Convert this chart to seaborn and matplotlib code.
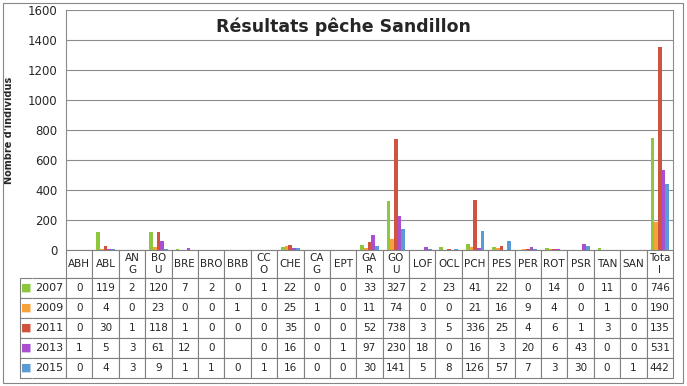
import numpy as np
import pandas as pd
import seaborn as sns
import matplotlib.pyplot as plt

# species codes (table headers are wrapped like in the Excel sheet)
especes = ["ABH", "ABL", "ANG", "BOU", "BRE", "BRO", "BRB", "CCO", "CHE", "CAG", "EPT",
           "GAR", "GOU", "LOF", "OCL", "PCH", "PES", "PER", "ROT", "PSR", "TAN", "SAN", "Total"]
entetes = ["ABH", "ABL", "AN\nG", "BO\nU", "BRE", "BRO", "BRB", "CC\nO", "CHE", "CA\nG", "EPT",
           "GA\nR", "GO\nU", "LOF", "OCL", "PCH", "PES", "PER", "ROT", "PSR", "TAN", "SAN", "Tota\nl"]
annees = ["2007", "2009", "2011", "2013", "2015"]
couleurs = ["#8DC63F", "#F7A13A", "#D0533F", "#A94FD0", "#5B9BD5"]

v2007 = [0, 119, 2, 120, 7, 2, 0, 1, 22, 0, 0, 33, 327, 2, 23, 41, 22, 0, 14, 0, 11, 0, 746]
v2009 = [0, 4, 0, 23, 0, 0, 1, 0, 25, 1, 0, 11, 74, 0, 0, 21, 16, 9, 4, 0, 1, 0, 190]
v2011 = [0, 30, 1, 118, 1, 0, 0, 0, 35, 0, 0, 52, 738, 3, 5, 336, 25, 4, 6, 1, 3, 0, 1355]
v2013 = [1, 5, 3, 61, 12, 0, np.nan, 0, 16, 0, 1, 97, 230, 18, 0, 16, 3, 20, 6, 43, 0, 0, 531]
v2015 = [0, 4, 3, 9, 1, 1, 0, 1, 16, 0, 0, 30, 141, 5, 8, 126, 57, 7, 3, 30, 0, 1, 442]
series = [v2007, v2009, v2011, v2013, v2015]

rows = []
for an, vals in zip(annees, series):
    for esp, v in zip(especes, vals):
        rows.append({"espece": esp, "annee": an, "n": v})
df = pd.DataFrame(rows)

sns.set_style("white")
plt.rcParams['font.family'] = ['DejaVu Sans']

fig = plt.figure(figsize=(6.87, 3.86), dpi=100)
W, H = 687, 386
x0, x1, ytop, ybot = 66, 673, 10, 250
ax = fig.add_axes([x0 / W, 1 - ybot / H, (x1 - x0) / W, (ybot - ytop) / H])

sns.barplot(data=df, x="espece", y="n", hue="annee", order=especes, hue_order=annees,
            palette=couleurs, width=0.7, ax=ax, legend=False, errorbar=None,
            linewidth=0, edgecolor="none", saturation=1)

ax.set_ylim(0, 1600)
ax.set_yticks(range(0, 1601, 200))
ax.tick_params(axis='y', labelsize=8.5, length=0, pad=6)
ax.set_xticks([])
ax.set_xlabel("")
ax.set_xlim(-0.5, len(especes) - 0.5)
ax.yaxis.grid(True, color="#8c8c8c", lw=0.8)
ax.set_axisbelow(True)
for s in ["left", "right"]:
    ax.spines[s].set_color("#8c8c8c")
    ax.spines[s].set_linewidth(0.8)
ax.spines["top"].set_visible(False)
ax.spines["bottom"].set_visible(False)
ax.set_ylabel("Nombre d'individus", fontsize=7, fontweight="bold")
ax.yaxis.set_label_coords(-(x0 - 14) / (x1 - x0), 0.5)

# data table under the plot
n = len(especes)
cell_text = []
for vals in series:
    cell_text.append(["■", ""] + ["" if np.isnan(v) else str(int(v))[:3] for v in vals])
for r, an in enumerate(annees):
    cell_text[r][1] = an
col_labels = ["", ""] + entetes

key_w, year_w, cat_w = 12, 34, (x1 - x0) / n
hdr_h, row_h = 28, 20
tab_h = hdr_h + 5 * row_h
tbl = ax.table(cellText=cell_text, colLabels=col_labels, cellLoc="center",
               bbox=[-(key_w + year_w) / (x1 - x0), -tab_h / (ybot - ytop),
                     1 + (key_w + year_w) / (x1 - x0), tab_h / (ybot - ytop)])
tbl.auto_set_font_size(False)
for (r, c), cell in tbl.get_celld().items():
    cell.set_edgecolor("#808080")
    cell.set_linewidth(0.8)
    cell.set_height(hdr_h if r == 0 else row_h)
    cell.set_width(key_w if c == 0 else (year_w if c == 1 else cat_w))
    cell.get_text().set_fontsize(7.5)
    cell.PAD = 0.02
    if r == 0 and c < 2:
        cell.visible_edges = ""
    elif c == 0:
        cell.visible_edges = "BTL"
        cell.get_text().set_color(couleurs[r - 1])
        cell.get_text().set_fontsize(8)
    elif c == 1 and r > 0:
        cell.visible_edges = "BTR"
        cell.get_text().set_fontsize(8)

fig.text(0.5, 1 - 27 / H, "Résultats pêche Sandillon", ha="center", va="center",
         fontsize=12.5, fontweight="bold")

fig.add_artist(plt.Rectangle((3 / W, 3 / H), 680 / W, 380 / H, transform=fig.transFigure,
                             fill=False, edgecolor="#868686", lw=0.8))

fig.savefig("out.png", dpi=100)
